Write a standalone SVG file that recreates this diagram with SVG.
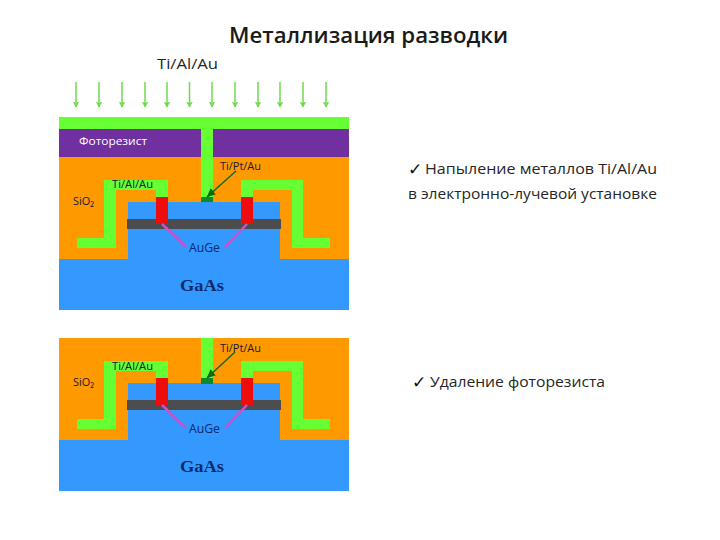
<svg xmlns="http://www.w3.org/2000/svg" width="720" height="540" viewBox="0 0 720 540">
<defs>
<marker id="ag" markerWidth="6" markerHeight="7" refX="5.500" refY="3.500" orient="auto" markerUnits="userSpaceOnUse"><path d="M0 0L6 3.500L0 7L1.500 3.500Z" fill="#70d850"/></marker>
<marker id="ad" markerWidth="9" markerHeight="8" refX="8.500" refY="4" orient="auto" markerUnits="userSpaceOnUse"><path d="M0 0L9 4L0 8Z" fill="#0f6b0f"/></marker>
<g id="stack">
<rect x="59" y="0" width="290" height="102" fill="#ff9900"/>
<path d="M59 102H128V45H280V102H349V153H59Z" fill="#3399ff"/>
<path d="M77 81H104V23H168V40H156V33H116V91H77Z" class="m"/>
<path d="M330 81H303V23H241V40H253V33H292V91H330Z" class="m"/>
<rect x="127" y="62" width="154" height="10" fill="#4d4d4d"/>
<rect x="156" y="40" width="12" height="27" fill="#ee0d0d"/>
<rect x="241" y="40" width="12" height="27" fill="#ee0d0d"/>
<path d="M162 67L186 90M247 67L225 90" fill="none" stroke="#cf4fc8" stroke-width="2.500"/>
</g>
</defs>
<style>
.m{fill:#66ff33}
.a{stroke:#70d850;stroke-width:1.500;fill:none;marker-end:url(#ag)}
.l{stroke:#0f6b0f;stroke-width:1.500;fill:none;marker-end:url(#ad)}
text{font-family:"Open Sans","Liberation Sans",sans-serif}
.s{font-size:11.500px;fill:#1a1a33}
.n{font-size:12px;fill:#0b2a6b}
.g{font-family:"Liberation Serif",serif;font-size:16px;font-weight:bold;fill:#0b2a6b}
.b{font-size:15px;fill:#262626}
.c{font-family:"DejaVu Sans",sans-serif;font-size:17px;fill:#111111}
</style>
<text x="229" y="43" font-size="21" font-weight="600" fill="#1a1a1a" textLength="279" lengthAdjust="spacingAndGlyphs">Металлизация разводки</text>
<text x="157" y="69" font-size="15" fill="#262626" textLength="61" lengthAdjust="spacingAndGlyphs">Ti/Al/Au</text>
<g id="connectors">
<path class="a" d="M76 82V107"/><path class="a" d="M99 82V107"/><path class="a" d="M122 82V107"/><path class="a" d="M145 82V107"/><path class="a" d="M167 82V107"/><path class="a" d="M189.500 82V107"/><path class="a" d="M212 82V107"/><path class="a" d="M235 82V107"/><path class="a" d="M258 82V107"/><path class="a" d="M280 82V107"/><path class="a" d="M303 82V107"/><path class="a" d="M326 82V107"/>
</g>
<g id="structure-top">
<use href="#stack" y="157"/>
<rect x="59" y="129" width="290" height="28" fill="#7030a0"/>
<rect x="59" y="117" width="290" height="12" class="m"/>
<rect x="201" y="129" width="12" height="68" class="m"/>
<rect x="201" y="197" width="12" height="5" fill="#0f8a2a"/>
<path class="l" d="M236 171L207 197"/>
<text x="79" y="145" font-size="11.500" fill="#ffffff" textLength="68" lengthAdjust="spacingAndGlyphs">Фоторезист</text>
<text x="220" y="170" class="s" textLength="41" lengthAdjust="spacingAndGlyphs">Ti/Pt/Au</text>
<text x="112" y="188" class="s" textLength="41" lengthAdjust="spacingAndGlyphs">Ti/Al/Au</text>
<text x="73" y="205" class="s" textLength="21" lengthAdjust="spacingAndGlyphs">SiO₂</text>
<text x="189" y="252" class="n" textLength="31" lengthAdjust="spacingAndGlyphs">AuGe</text>
<text x="180" y="291" class="g" textLength="44" lengthAdjust="spacingAndGlyphs">GaAs</text>
</g>
<g id="structure-bottom">
<use href="#stack" y="338"/>
<rect x="201" y="338" width="12" height="40" class="m"/>
<rect x="201" y="378" width="12" height="6" fill="#0f8a2a"/>
<path class="l" d="M235 352L207 378"/>
<text x="220" y="352" class="s" textLength="41" lengthAdjust="spacingAndGlyphs">Ti/Pt/Au</text>
<text x="112" y="370" class="s" textLength="41" lengthAdjust="spacingAndGlyphs">Ti/Al/Au</text>
<text x="73" y="386" class="s" textLength="21" lengthAdjust="spacingAndGlyphs">SiO₂</text>
<text x="189" y="433" class="n" textLength="31" lengthAdjust="spacingAndGlyphs">AuGe</text>
<text x="180" y="472" class="g" textLength="44" lengthAdjust="spacingAndGlyphs">GaAs</text>
</g>
<g id="notes">
<text x="408" y="175" class="c">✓</text>
<text x="425" y="174" class="b" textLength="232" lengthAdjust="spacingAndGlyphs">Напыление металлов Ti/Al/Au</text>
<text x="408" y="199" class="b" textLength="249" lengthAdjust="spacingAndGlyphs">в электронно-лучевой установке</text>
<text x="412" y="388" class="c">✓</text>
<text x="430" y="387" class="b" textLength="175" lengthAdjust="spacingAndGlyphs">Удаление фоторезиста</text>
</g>
</svg>
